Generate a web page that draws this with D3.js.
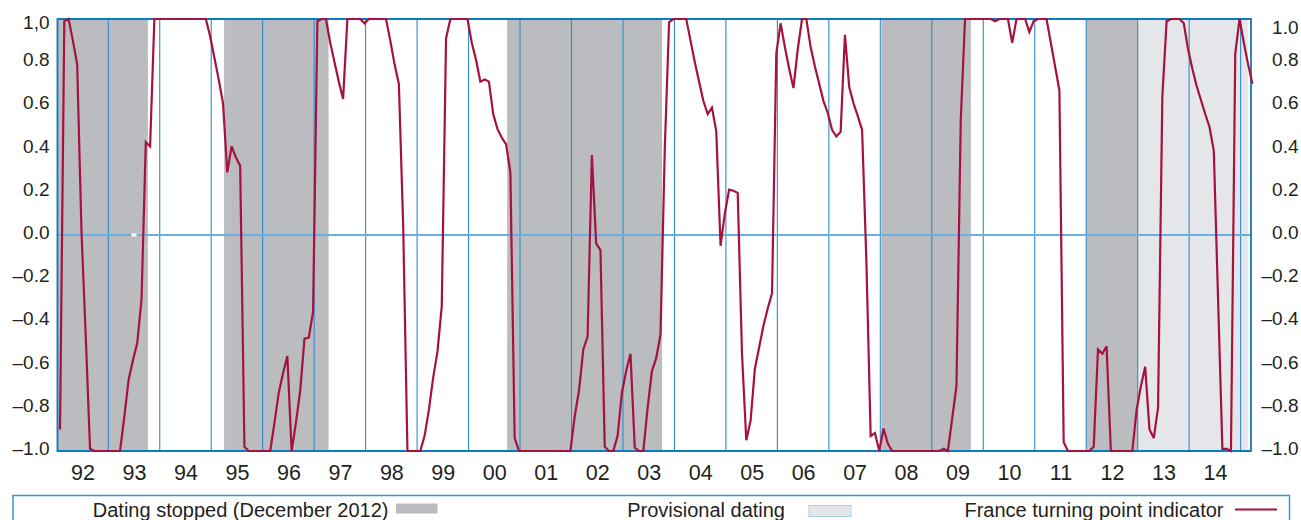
<!DOCTYPE html>
<html><head><meta charset="utf-8">
<script src="https://cdn.jsdelivr.net/npm/d3@7/dist/d3.min.js"></script>
<style>
body{margin:0;background:#fff}
svg{display:block}
text{font-family:"Liberation Sans",Arial,Helvetica,sans-serif;fill:#231f20}
</style>
</head><body>
<svg id="chart" width="1301" height="520"></svg>
<script>
// ---- data ----
const startYear = 1992; // first monthly observation: January 1992
// France turning point indicator, monthly values (Jan 1992 .. Mar 2015)
const tpi = [
  -0.90, 0.99, 1.0, 0.90, 0.79, 0.02, -0.47, -0.99, -1.0, -1.0, -1.0, -1.0,          // 1992
  -1.0, -1.0, -1.0, -0.84, -0.67, -0.58, -0.50, -0.30, 0.43, 0.41, 1.0, 1.0,         // 1993
  1.0, 1.0, 1.0, 1.0, 1.0, 1.0, 1.0, 1.0, 1.0, 1.0, 1.0, 0.92,                        // 1994
  0.82, 0.72, 0.61, 0.29, 0.41, 0.36, 0.32, -0.98, -1.0, -1.0, -1.0, -1.0,           // 1995
  -1.0, -1.0, -0.87, -0.73, -0.64, -0.56, -1.0, -0.87, -0.72, -0.48, -0.475, -0.355, // 1996
  0.99, 1.0, 1.0, 0.89, 0.80, 0.71, 0.63, 1.0, 1.0, 1.0, 1.0, 0.98,                   // 1997
  1.0, 1.0, 1.0, 1.0, 1.0, 0.90, 0.79, 0.70, 0.05, -1.0, -1.0, -1.0,                  // 1998
  -1.0, -0.93, -0.81, -0.66, -0.54, -0.33, 0.91, 1.0, 1.0, 1.0, 1.0, 1.0,            // 1999
  0.89, 0.81, 0.71, 0.72, 0.71, 0.56, 0.49, 0.45, 0.42, 0.29, -0.94, -1.0,           // 2000
  -1.0, -1.0, -1.0, -1.0, -1.0, -1.0, -1.0, -1.0, -1.0, -1.0, -1.0, -1.0,            // 2001
  -0.84, -0.72, -0.53, -0.47, 0.37, -0.04, -0.07, -0.98, -1.0, -1.0, -0.93, -0.73,   // 2002
  -0.63, -0.55, -0.985, -1.0, -1.0, -0.80, -0.63, -0.57, -0.46, 0.40, 0.985, 1.0,    // 2003
  1.0, 1.0, 1.0, 0.90, 0.80, 0.71, 0.62, 0.56, 0.59, 0.48, -0.05, 0.10,              // 2004
  0.21, 0.205, 0.195, -0.55, -0.95, -0.86, -0.62, -0.52, -0.42, -0.34, -0.27, 0.84,  // 2005
  0.98, 0.87, 0.77, 0.68, 0.86, 1.0, 1.0, 0.87, 0.78, 0.70, 0.62, 0.565,             // 2006
  0.487, 0.456, 0.478, 0.927, 0.685, 0.61, 0.55, 0.487, -0.12, -0.93, -0.917, -1.0,  // 2007
  -0.896, -0.966, -1.0, -1.0, -1.0, -1.0, -1.0, -1.0, -1.0, -1.0, -1.0, -1.0,        // 2008
  -1.0, -1.0, -0.99, -1.0, -0.85, -0.70, 0.53, 1.0, 1.0, 1.0, 1.0, 1.0,              // 2009
  1.0, 1.0, 0.99, 1.0, 1.0, 1.0, 0.89, 1.0, 1.0, 1.0, 0.94, 0.99,                     // 2010
  1.0, 1.0, 1.0, 0.89, 0.78, 0.67, -0.96, -1.0, -1.0, -1.0, -1.0, -1.0,              // 2011
  -1.0, -0.98, -0.53, -0.55, -0.515, -1.0, -1.0, -1.0, -1.0, -1.0, -1.0, -0.81,      // 2012
  -0.70, -0.61, -0.90, -0.94, -0.80, 0.64, 0.99, 1.0, 1.0, 1.0, 0.98, 0.86,          // 2013
  0.77, 0.69, 0.625, 0.56, 0.50, 0.39, -0.30, -0.99, -0.99, -1.0, 0.84, 1.0,         // 2014
  0.89, 0.79, 0.70                                                                    // 2015
];
// shaded periods [from, to] in decimal years
const datingStopped = [[1992.0, 1993.77], [1995.25, 1997.28], [2000.75, 2003.76], [2008.02, 2009.76], [2012.0, 2013.0]];
const provisional = [[2013.0, 2015.14]];
// axes
const yTicks = [1, 0.8, 0.6, 0.4, 0.2, 0, -0.2, -0.4, -0.6, -0.8, -1];
const leftTickLabels = ["1,0", "0.8", "0.6", "0.4", "0.2", "0.0", "–0.2", "–0.4", "–0.6", "–0.8", "–1.0"];
const rightTickLabels = ["1.0", "0.8", "0.6", "0.4", "0.2", "0.0", "–0.2", "–0.4", "–0.6", "–0.8", "–1.0"];
const yearLabels = ["92","93","94","95","96","97","98","99","00","01","02","03","04","05","06","07","08","09","10","11","12","13","14"];
const legendLabels = ["Dating stopped (December 2012)", "Provisional dating", "France turning point indicator"];

// ---- drawing ----
const svg = d3.select("#chart");
const C = {dark:"#bbbcc0", light:"#e5e6e9", grid:"#2d8ccb", zero:"#66b1e0", frame:"#0e7abf", line:"#a5123e", legend:"#3597d6"};
const x = d3.scaleLinear().domain([1992, 2015.196]).range([56.8, 1250.7]);
const y = d3.scaleLinear().domain([-1, 1]).range([451, 19]);
const [x0, x1] = x.range();

// shading
svg.append("g").selectAll("rect").data(datingStopped).join("rect")
  .attr("x", d => x(d[0])).attr("width", d => x(d[1]) - x(d[0]))
  .attr("y", y(1)).attr("height", y(-1) - y(1)).attr("fill", C.dark);
svg.append("g").selectAll("rect").data(provisional).join("rect")
  .attr("x", d => x(d[0])).attr("width", d => x(d[1]) - x(d[0]))
  .attr("y", y(1)).attr("height", y(-1) - y(1)).attr("fill", C.light);

// year grid lines
const years = d3.range(1993, 2016);
svg.append("g").selectAll("line").data(years).join("line")
  .attr("x1", d => x(d)).attr("x2", d => x(d))
  .attr("y1", y(1)).attr("y2", y(-1))
  .attr("stroke", C.grid).attr("stroke-width", 1.1);

// zero line (with the small break seen in the original)
const zg = svg.append("g");
zg.append("line").attr("x1", x0).attr("x2", 131.5).attr("y1", y(0)).attr("y2", y(0))
  .attr("stroke", C.zero).attr("stroke-width", 1.8);
zg.append("rect").attr("x", 131.5).attr("width", 5.2).attr("y", y(0) - 1.5).attr("height", 3).attr("fill", "#fff");
zg.append("line").attr("x1", 136.7).attr("x2", x1).attr("y1", y(0)).attr("y2", y(0))
  .attr("stroke", C.zero).attr("stroke-width", 1.8);

// frame
const fg = svg.append("g").attr("stroke", C.frame).attr("fill", "none");
fg.append("line").attr("x1", x0).attr("x2", x1 + 1).attr("y1", y(1)).attr("y2", y(1)).attr("stroke-width", 2);
fg.append("line").attr("x1", x0).attr("x2", x1 + 1).attr("y1", y(-1)).attr("y2", y(-1)).attr("stroke-width", 2);
fg.append("line").attr("x1", x0 + 0.7).attr("x2", x0 + 0.7).attr("y1", y(1)).attr("y2", y(-1)).attr("stroke-width", 1.8);
fg.append("line").attr("x1", x1 + 0.3).attr("x2", x1 + 0.3).attr("y1", y(1)).attr("y2", y(-1)).attr("stroke-width", 1.8);

// indicator line
const line = d3.line()
  .x((d, i) => x(startYear + (i + 0.75) / 12))
  .y(d => y(d));
svg.append("path").datum(tpi).attr("d", line)
  .attr("fill", "none").attr("stroke", C.line).attr("stroke-width", 2.2)
  .attr("stroke-linejoin", "miter").attr("stroke-miterlimit", 3);

// y axes
const tickFs = 19;
const leftAxis = svg.append("g").attr("transform", "translate(49.5,0)")
  .call(d3.axisLeft(y).tickValues(yTicks).tickFormat((d, i) => leftTickLabels[i]).tickSize(0).tickPadding(0));
const rightAxis = svg.append("g").attr("transform", "translate(1298.5,0)")
  .call(d3.axisLeft(y).tickValues(yTicks).tickFormat((d, i) => rightTickLabels[i]).tickSize(0).tickPadding(0));
[leftAxis, rightAxis].forEach((g, k) => {
  g.select(".domain").remove();
  g.selectAll("text").attr("font-size", tickFs).attr("font-family", null).attr("fill", "#231f20")
    .attr("dy", d => d === 1 ? (k === 0 ? "0.5em" : "0.76em") : "0.18em");
});

// x axis (year labels at mid-year)
const xAxis = svg.append("g").attr("transform", `translate(0,${y(-1)})`)
  .call(d3.axisBottom(x).tickValues(yearLabels.map((d, i) => startYear + i + 0.5))
    .tickFormat((d, i) => yearLabels[i]).tickSize(0).tickPadding(13.4));
xAxis.select(".domain").remove();
xAxis.selectAll("text").attr("font-size", 21.5).attr("font-family", null).attr("fill", "#231f20");

// legend
const lg = svg.append("g");
lg.append("rect").attr("x", 13).attr("y", 495.5).attr("width", 1276.5).attr("height", 40)
  .attr("fill", "none").attr("stroke", C.legend).attr("stroke-width", 1.5);
const legY = 516.5;
lg.append("text").attr("x", 388.5).attr("y", legY).attr("text-anchor", "end").attr("font-size", 20).text(legendLabels[0]);
lg.append("rect").attr("x", 396).attr("y", 503.5).attr("width", 41.5).attr("height", 10).attr("fill", C.dark);
lg.append("text").attr("x", 785).attr("y", legY).attr("text-anchor", "end").attr("font-size", 20).text(legendLabels[1]);
lg.append("rect").attr("x", 809).attr("y", 505.5).attr("width", 42).attr("height", 11)
  .attr("fill", C.light).attr("stroke", "#a8cfea").attr("stroke-width", 1);
lg.append("text").attr("x", 1223.5).attr("y", legY).attr("text-anchor", "end").attr("font-size", 20).text(legendLabels[2]);
lg.append("line").attr("x1", 1235).attr("x2", 1277).attr("y1", 509.5).attr("y2", 509.5)
  .attr("stroke", C.line).attr("stroke-width", 2.2);
</script>
</body></html>
